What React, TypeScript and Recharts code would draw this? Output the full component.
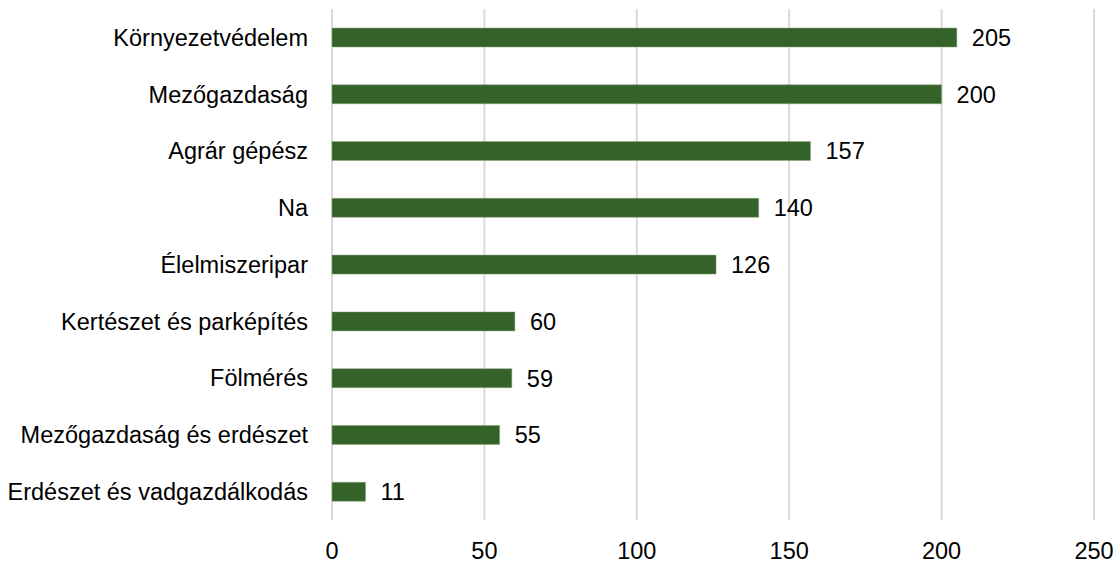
import React from "react";
import { BarChart, Bar, XAxis, YAxis, CartesianGrid, LabelList } from "recharts";

const categories = [
  "Környezetvédelem",
  "Mezőgazdaság",
  "Agrár gépész",
  "Na",
  "Élelmiszeripar",
  "Kertészet és parképítés",
  "Fölmérés",
  "Mezőgazdaság és erdészet",
  "Erdészet és vadgazdálkodás",
];
const values = [205, 200, 157, 140, 126, 60, 59, 55, 11];
const xTicks = [0, 50, 100, 150, 200, 250];

const data = categories.map((c, i) => ({ name: c, value: values[i] }));

const font = "'Liberation Sans', Arial, sans-serif";
const fs = 23.5;

export default function App() {
  return (
    <div style={{ position: "absolute", left: 0, top: 0, width: 1119, height: 565, background: "#fff" }}>
      <BarChart
        width={1119}
        height={565}
        data={data}
        layout="vertical"
        margin={{ top: 9, right: 25, bottom: 0, left: 0 }}
      >
        <CartesianGrid horizontal={false} stroke="#d9d9d9" strokeWidth={2} />
        <XAxis
          type="number"
          domain={[0, 250]}
          ticks={xTicks}
          axisLine={false}
          tickLine={false}
          height={45}
          tickMargin={16}
          tick={{ fontSize: fs, fill: "#000", fontFamily: font }}
          interval={0}
        />
        <YAxis
          type="category"
          dataKey="name"
          width={332}
          axisLine={false}
          tickLine={false}
          tickSize={0}
          tickMargin={24}
          tick={{ fontSize: fs, fill: "#000", fontFamily: font }}
          interval={0}
        />
        <Bar dataKey="value" fill="#356228" stroke="#8aa47f" strokeWidth={0.5} barSize={19} isAnimationActive={false}>
          <LabelList
            dataKey="value"
            position="right"
            offset={15}
            style={{ fontSize: fs, fill: "#000", fontFamily: font }}
          />
        </Bar>
      </BarChart>
    </div>
  );
}
